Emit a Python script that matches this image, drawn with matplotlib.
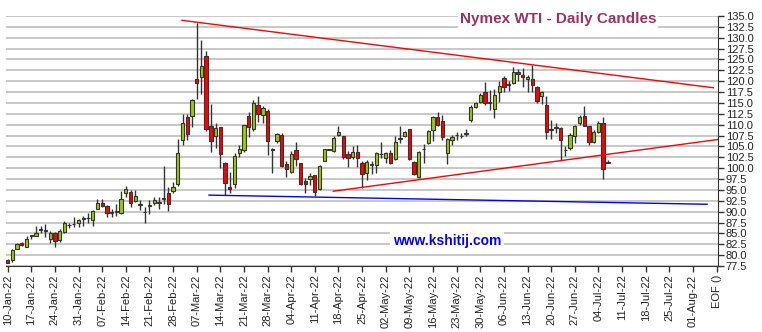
import matplotlib
matplotlib.use("Agg")
import matplotlib.pyplot as plt
import numpy as np

plt.rcParams['font.family'] = ['Liberation Sans', 'DejaVu Sans']

# daily candles, one per weekday starting 10-Jan-22
opens = [78.9, 78.9, 81.5, 82.8, 81.8, 84.4, 84.3, 85.8, 85.7, 83.8,
         85.0, 83.5, 85.4, 86.9, 87.1, 87.4, 88.4, 88.5, 88.0, 90.7,
         91.9, 91.2, 89.8, 90.0, 89.8, 94.2, 94.6, 92.4, 91.6, 89.9,
         91.4, 92.1, 92.0, 92.9, 94.4, 94.8, 96.3, 106.4, 111.8, 111.9,
         120.5, 120.9, 125.7, 109.8, 107.4, 109.4, 101.3, 95.6, 96.3, 103.6,
         104.2, 111.9, 108.9, 114.5, 112.3, 113.2, 104.2, 106.2, 107.7, 101.0,
         99.1, 104.2, 101.2, 97.1, 97.4, 98.4, 95.2, 101.7, 104.2, 104.0,
         107.7, 107.3, 103.3, 102.5, 103.7, 101.1, 99.0, 100.8, 100.8, 103.2,
         102.3, 103.4, 102.1, 106.8, 107.4, 109.0, 101.5, 97.9, 104.3, 105.7,
         108.7, 111.7, 110.9, 103.4, 106.4, 107.6, 107.3, 107.9, 111.0, 114.0,
         115.3, 117.5, 115.0, 113.6, 117.6, 120.7, 119.2, 119.6, 122.1, 121.5,
         120.5, 120.5, 118.6, 116.5, 114.6, 108.9, 109.3, 109.2, 104.1, 104.6,
         107.4, 110.3, 112.0, 109.7, 106.1, 108.4, 110.4, 101.2]
highs = [79.2, 81.5, 82.9, 83.1, 84.4, 84.6, 86.7, 86.8, 87.1, 85.6,
         85.4, 85.9, 87.8, 87.4, 88.7, 88.4, 89.0, 89.6, 90.3, 93.0,
         92.8, 91.6, 90.5, 91.7, 94.8, 95.9, 95.0, 95.0, 92.7, 91.1,
         92.7, 93.4, 93.3, 100.5, 95.7, 96.9, 106.8, 112.4, 112.4, 116.0,
         133.5, 129.5, 127.0, 114.8, 110.3, 109.5, 101.4, 99.2, 103.4, 105.3,
         110.0, 113.0, 115.7, 116.6, 114.2, 113.5, 104.6, 108.2, 108.1, 101.6,
         103.9, 106.0, 101.3, 97.7, 98.9, 98.5, 100.8, 104.4, 104.5, 107.3,
         109.8, 107.3, 103.9, 105.0, 105.4, 101.6, 101.9, 101.7, 103.8, 106.0,
         103.8, 104.2, 107.3, 109.7, 108.6, 109.1, 101.7, 104.0, 105.5, 108.8,
         112.1, 113.0, 112.3, 106.9, 107.7, 108.3, 108.0, 109.1, 114.6, 115.3,
         117.2, 119.9, 118.0, 118.2, 120.1, 121.1, 120.1, 123.2, 122.9, 123.0,
         121.5, 123.8, 118.8, 117.8, 116.5, 111.0, 110.5, 109.4, 105.0, 108.1,
         110.0, 112.3, 114.2, 109.7, 108.8, 110.9, 111.7, 101.9]
lows = [78.1, 78.5, 81.3, 82.0, 81.8, 83.6, 84.3, 85.2, 84.2, 82.8,
        81.9, 83.1, 85.1, 86.3, 86.5, 86.5, 86.8, 87.4, 86.8, 90.6,
        91.0, 88.7, 88.7, 89.1, 89.4, 93.4, 91.0, 92.3, 90.4, 87.4,
        89.4, 91.5, 90.6, 91.8, 90.2, 94.3, 96.0, 105.3, 106.5, 109.4,
        115.8, 117.1, 108.5, 103.8, 104.7, 100.0, 93.8, 94.2, 95.5, 102.6,
        103.8, 107.2, 108.6, 110.7, 110.5, 103.1, 98.9, 105.8, 100.3, 98.0,
        98.9, 100.4, 96.2, 94.3, 96.2, 93.7, 95.0, 101.6, 104.1, 103.8,
        107.3, 102.2, 100.2, 102.0, 100.2, 95.5, 97.3, 98.6, 98.8, 102.3,
        101.1, 100.9, 101.9, 105.7, 107.2, 101.9, 98.5, 97.7, 101.1, 105.5,
        106.3, 109.6, 106.5, 100.9, 105.4, 106.5, 106.9, 107.4, 110.7, 113.8,
        115.0, 114.6, 113.4, 111.5, 115.3, 117.5, 117.8, 119.3, 120.1, 118.6,
        117.6, 117.6, 115.0, 114.7, 106.7, 106.7, 108.2, 101.9, 102.7, 104.2,
        105.7, 110.0, 109.6, 105.4, 105.7, 108.0, 97.5, 101.2]
closes = [78.3, 81.2, 82.5, 82.3, 83.6, 84.5, 85.2, 85.9, 85.6, 85.1,
          83.3, 85.5, 87.3, 87.0, 87.2, 88.1, 88.6, 88.6, 90.2, 92.1,
          91.4, 89.6, 89.9, 90.1, 93.0, 95.3, 92.1, 93.6, 91.6, 89.9,
          91.4, 92.6, 92.0, 93.2, 91.7, 95.6, 103.4, 110.5, 107.8, 115.7,
          119.5, 123.6, 108.9, 106.2, 109.2, 103.2, 96.5, 95.1, 102.9, 104.5,
          109.9, 109.5, 115.0, 112.5, 113.8, 106.2, 104.3, 107.9, 100.6, 99.7,
          103.3, 102.0, 96.4, 96.4, 98.1, 94.6, 100.6, 104.3, 104.3, 107.0,
          108.3, 102.5, 102.3, 103.7, 102.3, 98.7, 101.5, 100.9, 103.5, 103.3,
          103.4, 101.1, 106.1, 106.9, 108.3, 102.1, 98.6, 103.8, 104.4, 108.6,
          111.7, 110.0, 107.1, 106.7, 107.2, 107.7, 107.4, 108.0, 114.0, 115.0,
          116.9, 114.9, 115.1, 116.8, 118.9, 118.6, 119.3, 122.1, 121.6, 121.0,
          121.0, 119.2, 115.5, 117.5, 108.3, 108.8, 109.4, 106.5, 104.2, 107.7,
          109.6, 111.8, 109.8, 106.0, 108.3, 110.4, 99.8, 101.2]

tick_labels = ['10-Jan-22', '17-Jan-22', '24-Jan-22', '31-Jan-22', '07-Feb-22',
               '14-Feb-22', '21-Feb-22', '28-Feb-22', '07-Mar-22', '14-Mar-22',
               '21-Mar-22', '28-Mar-22', '04-Apr-22', '11-Apr-22', '18-Apr-22',
               '25-Apr-22', '02-May-22', '09-May-22', '16-May-22', '23-May-22',
               '30-May-22', '06-Jun-22', '13-Jun-22', '20-Jun-22', '27-Jun-22',
               '04-Jul-22', '11-Jul-22', '18-Jul-22', '25-Jul-22', '01-Aug-22',
               'EOF ()']

# trend lines: (day index, price)
upper_x = [36.9, 149.3]
upper_y = [134.0, 118.5]
lower_x = [68.9, 151.0]
lower_y = [94.7, 106.7]
blue_x = [42.6, 148.0]
blue_y = [93.8, 91.7]

o = np.array(opens)
h = np.array(highs)
l = np.array(lows)
c = np.array(closes)
x = np.arange(len(o))
up = c >= o

fig = plt.figure(figsize=(7.62, 3.32), dpi=100)
ax = fig.add_axes([6 / 762, 1 - 266 / 332, (717.5 - 6) / 762, 250 / 332])

ax.vlines(x, l, h, color='#333333', lw=1, zorder=2)
body_lo = np.minimum(o, c)
body_h = np.maximum(np.abs(c - o), 0.12)
ax.bar(x, body_h, bottom=body_lo, width=0.7,
       color=np.where(up, '#99CC00', '#FF0000'),
       edgecolor='#333333', linewidth=0.8, zorder=3)

ax.plot(upper_x, upper_y, color='#FF0000', lw=1, zorder=4)
ax.plot(lower_x, lower_y, color='#FF0000', lw=1, zorder=4)
ax.plot(blue_x, blue_y, color='#0000FF', lw=1, zorder=4)

ax.set_xlim(-0.35, 150.2)
ax.set_ylim(77.5, 135)

ax.yaxis.tick_right()
ax.set_yticks(np.arange(77.5, 135.01, 2.5))
ax.set_yticklabels(['%.1f' % v for v in np.arange(77.5, 135.01, 2.5)])
ax.set_xticks(np.arange(len(tick_labels)) * 5)
ax.set_xticklabels(tick_labels, rotation=90)
ax.tick_params(axis='both', labelsize=8, colors='#333333', length=4, width=1)
ax.tick_params(axis='x', pad=2)
ax.tick_params(axis='y', pad=2)
for t in ax.get_xticklabels() + ax.get_yticklabels():
    t.set_color('#222222')

ax.yaxis.grid(True, color='#BDBDBD', lw=1.2)
ax.set_axisbelow(True)
ax.spines['left'].set_visible(False)
ax.spines['top'].set_visible(False)
ax.spines['right'].set_color('#333333')
ax.spines['bottom'].set_color('#333333')

fig.text(558 / 762, 1 - 19 / 332, 'Nymex WTI - Daily Candles', ha='center', va='center',
         fontsize=11, fontweight='bold', color='#993366',
         bbox=dict(facecolor='white', edgecolor='none', pad=1.5))
fig.text(447 / 762, 1 - 241 / 332, 'www.kshitij.com', ha='center', va='center',
         fontsize=10, fontweight='bold', color='#0000FF',
         bbox=dict(facecolor='white', edgecolor='none', pad=2))

fig.savefig('out.png', dpi=100)
